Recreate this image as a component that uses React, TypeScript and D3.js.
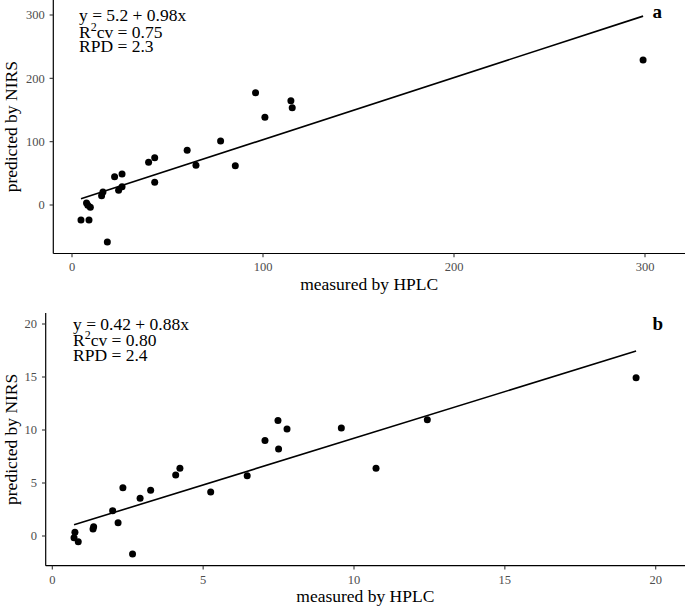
import React from "react";
import * as d3 from "d3";

// ---------- data ----------
const topMeasured = [4.7, 7.6, 8.3, 9.6, 8.9, 15.5, 16.2, 18.5, 22.3, 24.4, 26.2, 26.2, 40.1, 43.3, 43.3, 60.3, 64.9, 77.8, 85.5, 96.1, 101, 114.6, 115.3, 299];
const topPredicted = [-23.7, 3, -0.5, -3.5, -23.7, 14.5, 20.5, -58.4, 44.7, 23.2, 49, 29, 67.4, 74.7, 35.8, 86.3, 62.6, 101, 62.1, 177.4, 138.4, 164.7, 153.7, 229];
const topFit = { intercept: 5.2, slope: 0.98 };
const topLabels = ["y = 5.2 + 0.98x", "0.75", "RPD = 2.3"];
const topXTicks = [0, 100, 200, 300];
const topYTicks = [0, 100, 200, 300];

const botMeasured = [0.75, 0.72, 0.86, 1.35, 1.37, 2.0, 2.18, 2.34, 2.66, 2.91, 3.26, 4.09, 4.23, 5.25, 6.46, 7.05, 7.48, 7.5, 7.78, 9.58, 10.73, 12.43, 19.35];
const botPredicted = [0.35, -0.16, -0.54, 0.66, 0.88, 2.39, 1.26, 4.56, -1.7, 3.55, 4.31, 5.75, 6.38, 4.15, 5.69, 9.0, 10.9, 8.2, 10.1, 10.2, 6.38, 10.97, 14.94];
const botFit = { intercept: 0.42, slope: 0.88 };
const botLabels = ["y = 0.42 + 0.88x", "0.80", "RPD = 2.4"];
const botXTicks = [0, 5, 10, 15, 20];
const botYTicks = [0, 5, 10, 15, 20];

const xTitle = "measured by HPLC";
const yTitle = "predicted by NIRS";

const FONT = "'Liberation Serif', 'Times New Roman', serif";

type PanelProps = {
  measured: number[];
  predicted: number[];
  fit: { intercept: number; slope: number };
  labels: string[];
  xTicks: number[];
  yTicks: number[];
  tag: string;
  box: { left: number; right: number; top: number; bottom: number };
  xScale: d3.ScaleLinear<number, number>;
  yScale: d3.ScaleLinear<number, number>;
  annot: { x: number; y: number };
  tagPos: { x: number; y: number };
};

function Panel(p: PanelProps) {
  const { xScale: x, yScale: y, box } = p;
  const ext = d3.extent(p.measured) as [number, number];
  const fitLine = d3.line<number>()
    .x((d) => x(d))
    .y((d) => y(p.fit.intercept + p.fit.slope * d));
  const pts = p.measured.map((m, i) => [m, p.predicted[i]]);
  const tickLen = 3.7;
  return (
    <g>
      {/* axes */}
      <line x1={box.left} x2={box.left} y1={box.top} y2={box.bottom} stroke="#000" strokeWidth={1.2} />
      <line x1={box.left} x2={box.right} y1={box.bottom} y2={box.bottom} stroke="#000" strokeWidth={1.2} />
      {p.xTicks.map((t) => (
        <g key={"x" + t}>
          <line x1={x(t)} x2={x(t)} y1={box.bottom} y2={box.bottom + tickLen} stroke="#333" strokeWidth={1.1} />
          <text x={x(t)} y={box.bottom + 17.8} textAnchor="middle" fontSize={12.5} fill="#4d4d4d" fontFamily={FONT}>{t}</text>
        </g>
      ))}
      {p.yTicks.map((t) => (
        <g key={"y" + t}>
          <line x1={box.left - tickLen} x2={box.left} y1={y(t)} y2={y(t)} stroke="#333" strokeWidth={1.1} />
          <text x={box.left - 8.6} y={y(t)} dy="0.35em" textAnchor="end" fontSize={12.5} fill="#4d4d4d" fontFamily={FONT}>{t}</text>
        </g>
      ))}
      {/* regression line */}
      <path d={fitLine(ext) || ""} fill="none" stroke="#000" strokeWidth={1.6} />
      {/* points */}
      {pts.map((d, i) => (
        <circle key={i} cx={x(d[0])} cy={y(d[1])} r={3.5} fill="#000" />
      ))}
      {/* annotation */}
      <g fontFamily={FONT} fontSize={17.5} fill="#000">
        <text x={p.annot.x} y={p.annot.y}>{p.labels[0]}</text>
        <text x={p.annot.x} y={p.annot.y + 16.5}>
          R<tspan fontSize={12} dy={-7}>2</tspan><tspan dy={7}>{"cv = " + p.labels[1]}</tspan>
        </text>
        <text x={p.annot.x} y={p.annot.y + 31}>{p.labels[2]}</text>
      </g>
      <text x={p.tagPos.x} y={p.tagPos.y} fontFamily={FONT} fontSize={19} fontWeight="bold">{p.tag}</text>
      {/* titles */}
      <text x={(box.left + box.right) / 2} y={box.bottom + 36.5} textAnchor="middle" fontFamily={FONT} fontSize={17.5}>{xTitle}</text>
      <text transform={`translate(17,${(box.top + box.bottom) / 2}) rotate(-90)`} textAnchor="middle" fontFamily={FONT} fontSize={17.5}>{yTitle}</text>
    </g>
  );
}

export default function App() {
  const topX = d3.scaleLinear().domain([0, 300]).range([72, 645]);
  const topY = d3.scaleLinear().domain([0, 300]).range([205, 15]);
  const botX = d3.scaleLinear().domain([0, 20]).range([52.3, 655.7]);
  const botY = d3.scaleLinear().domain([0, 20]).range([536, 324]);
  return (
    <svg width={685} height={608} style={{ position: "absolute", left: 0, top: 0, background: "#fff" }}>
      <rect width={685} height={608} fill="#fff" />
      <Panel
        measured={topMeasured} predicted={topPredicted} fit={topFit} labels={topLabels}
        xTicks={topXTicks} yTicks={topYTicks} tag="a"
        box={{ left: 53.3, right: 685, top: 0, bottom: 253.5 }}
        xScale={topX} yScale={topY}
        annot={{ x: 79, y: 21 }} tagPos={{ x: 652.5, y: 17.5 }}
      />
      <Panel
        measured={botMeasured} predicted={botPredicted} fit={botFit} labels={botLabels}
        xTicks={botXTicks} yTicks={botYTicks} tag="b"
        box={{ left: 45.7, right: 685, top: 313, bottom: 565.7 }}
        xScale={botX} yScale={botY}
        annot={{ x: 73, y: 329.5 }} tagPos={{ x: 652.5, y: 330 }}
      />
    </svg>
  );
}
